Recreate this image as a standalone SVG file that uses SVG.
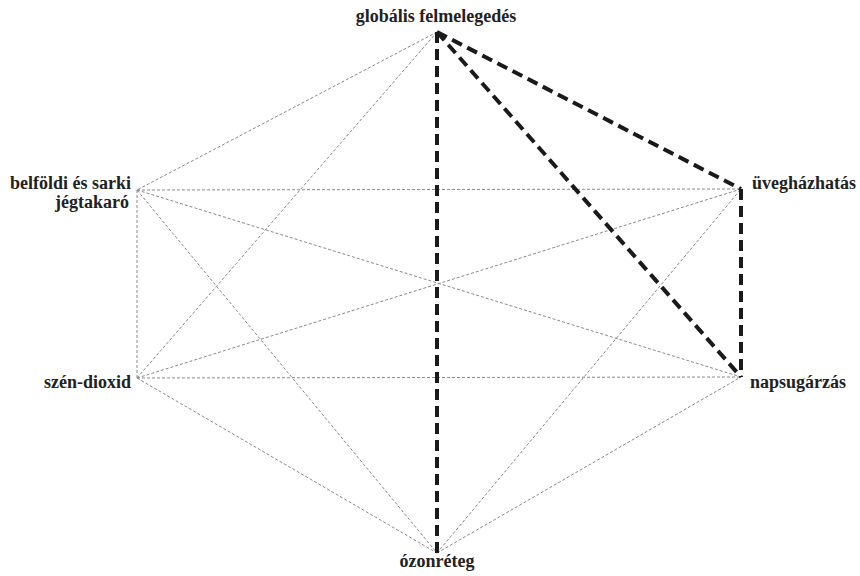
<svg xmlns="http://www.w3.org/2000/svg" width="860" height="576" viewBox="0 0 860 576">
<style>
.bg{fill:#ffffff}
.thin{stroke:#8a8a8a;stroke-width:1;stroke-dasharray:3 2;fill:none}
.thick{stroke:#1a1a1a;stroke-width:4;stroke-dasharray:11 6;fill:none}
.lbl{font-weight:bold;font-size:18px;fill:#222}
</style>
<rect class="bg" x="0" y="0" width="860" height="576"/>
<g id="connectors">
<line class="thin" x1="437" y1="32" x2="137" y2="190"/>
<line class="thin" x1="437" y1="32" x2="137" y2="378"/>
<line class="thin" x1="137" y1="190" x2="741" y2="189"/>
<line class="thin" x1="137" y1="190" x2="741" y2="377"/>
<line class="thin" x1="137" y1="190" x2="437" y2="553"/>
<line class="thin" x1="137" y1="190" x2="137" y2="378"/>
<line class="thin" x1="137" y1="378" x2="741" y2="189"/>
<line class="thin" x1="137" y1="378" x2="741" y2="377"/>
<line class="thin" x1="137" y1="378" x2="437" y2="553"/>
<line class="thin" x1="437" y1="553" x2="741" y2="189"/>
<line class="thin" x1="437" y1="553" x2="741" y2="377"/>
<line class="thick" x1="437" y1="32" x2="741" y2="189"/>
<line class="thick" x1="437" y1="32" x2="741" y2="377"/>
<line class="thick" x1="437" y1="32" x2="437" y2="553"/>
<line class="thick" x1="741" y1="189" x2="741" y2="377"/>
</g>
<g font-family="'Liberation Serif', 'Times New Roman', serif">
<g id="node-globalis">
<text class="lbl" x="436" y="22" text-anchor="middle">globális felmelegedés</text>
</g>
<g id="node-belfoldi">
<text class="lbl" x="131" y="189" text-anchor="end">belföldi és sarki</text>
<text class="lbl" x="129" y="208" text-anchor="end">jégtakaró</text>
</g>
<g id="node-uveghaz">
<text class="lbl" x="752" y="189">üvegházhatás</text>
</g>
<g id="node-szen">
<text class="lbl" x="131" y="388" text-anchor="end">szén-dioxid</text>
</g>
<g id="node-napsug">
<text class="lbl" x="750" y="388">napsugárzás</text>
</g>
<g id="node-ozon">
<text class="lbl" x="437" y="567" text-anchor="middle">ózonréteg</text>
</g>
</g>
</svg>
